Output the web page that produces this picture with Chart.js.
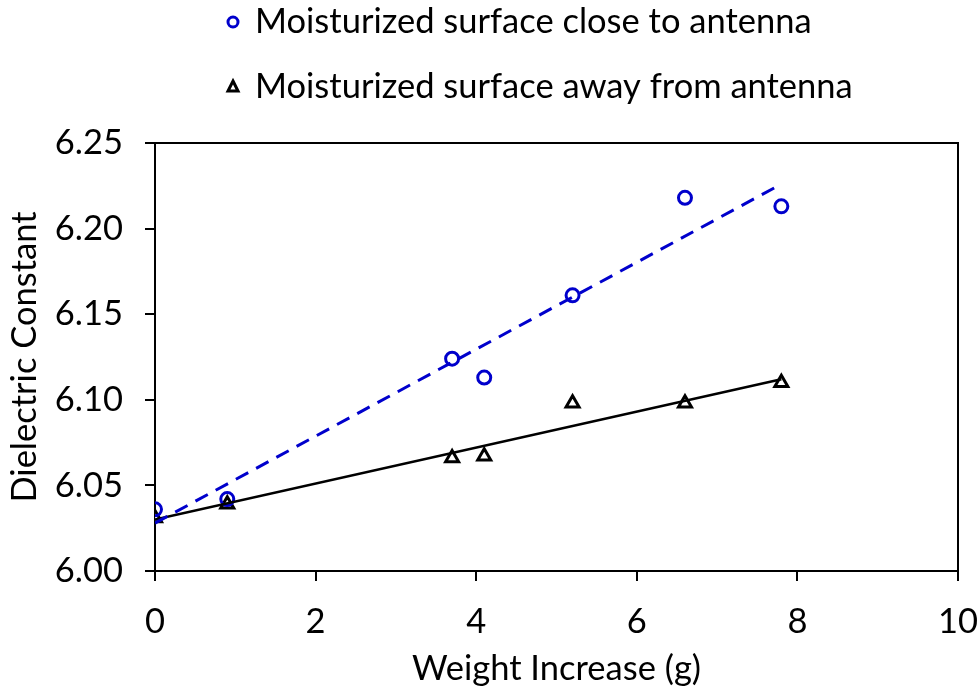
<!DOCTYPE html>
<html>
<head>
<meta charset="utf-8">
<script src="https://cdn.jsdelivr.net/npm/chart.js@4.4.0/dist/chart.umd.min.js"></script>
<style>
  html, body { margin: 0; padding: 0; background: #fff; }
  #wrap { width: 977px; height: 690px; }
</style>
</head>
<body>
<div id="wrap"><canvas id="myChart" width="977" height="690"></canvas></div>
<script>
// data
var weightX = [0, 0.9, 3.7, 4.1, 5.2, 6.6, 7.8];
var closeY = [6.036, 6.042, 6.124, 6.113, 6.161, 6.218, 6.213];
var awayY = [6.031, 6.039, 6.066, 6.067, 6.098, 6.098, 6.110];
var trendX = [0, 7.8];
var closeTrendY = [6.028, 6.226];
var awayTrendY = [6.030, 6.112];
var xTicks = [0, 2, 4, 6, 8, 10];
var yTicks = [6.00, 6.05, 6.10, 6.15, 6.20, 6.25];
var legendLabels = ["Moisturized surface close to antenna", "Moisturized surface away from antenna"];

var BLUE = "#0000CC";
var FONT = "Lato";
var FSIZE = 34.5;

function toPoints(xs, ys) {
    return xs.map((x, i) => ({ x: x, y: ys[i] }));
}

// frame round the plot area + the legend at the top
const framePlugin = {
    id: "frame",
    afterDraw(chart) {
        const c = chart.ctx;
        const a = chart.chartArea;
        c.save();
        c.strokeStyle = "#000";
        c.lineWidth = 2;
        c.beginPath();
        c.moveTo(a.left, a.top);
        c.lineTo(a.right, a.top);
        c.lineTo(a.right, a.bottom);
        c.stroke();

        // legend
        c.font = FSIZE + "px " + FONT;
        c.fillStyle = "#000";
        c.textBaseline = "middle";
        c.textAlign = "left";
        var rows = [22, 87];
        // circle
        c.lineWidth = 3;
        c.strokeStyle = BLUE;
        c.beginPath();
        c.arc(233, rows[0], 5, 0, Math.PI * 2);
        c.stroke();
        c.fillText(legendLabels[0], 255, rows[0]);
        // triangle
        c.strokeStyle = "#000";
        c.beginPath();
        c.moveTo(233, rows[1] - 6);
        c.lineTo(238, rows[1] + 4);
        c.lineTo(228, rows[1] + 4);
        c.closePath();
        c.stroke();
        c.fillText(legendLabels[1], 255, rows[1]);
        c.restore();
    }
};

var ctx = document.getElementById("myChart");

var chart = new Chart(ctx, {
    type: "scatter",
    data: {
        datasets: [
            {
                label: "close trend",
                type: "line",
                data: toPoints(trendX, closeTrendY),
                borderColor: BLUE,
                borderWidth: 3,
                borderDash: [14, 9],
                pointRadius: 0,
                fill: false
            },
            {
                label: "away trend",
                type: "line",
                data: toPoints(trendX, awayTrendY),
                borderColor: "#000",
                borderWidth: 2.5,
                pointRadius: 0,
                fill: false
            },
            {
                label: legendLabels[0],
                data: toPoints(weightX, closeY),
                pointStyle: "circle",
                pointRadius: 6.5,
                pointBorderWidth: 3,
                borderColor: BLUE,
                backgroundColor: "rgba(255,255,255,0)"
            },
            {
                label: legendLabels[1],
                data: toPoints(weightX, awayY),
                pointStyle: "triangle",
                pointRadius: 7.5,
                pointBorderWidth: 3,
                borderColor: "#000",
                backgroundColor: "#fff"
            }
        ]
    },
    options: {
        responsive: false,
        animation: false,
        layout: {
            padding: { top: 143, right: 19, left: 0, bottom: 0 }
        },
        plugins: {
            legend: { display: false },
            tooltip: { enabled: false }
        },
        scales: {
            x: {
                type: "linear",
                min: 0,
                max: 10,
                afterBuildTicks: (s) => { s.ticks = xTicks.map(v => ({ value: v })); },
                afterFit: (s) => {
                    s.height = 119;
                    s.paddingLeft = 0;
                    s.paddingRight = 0;
                },
                grid: {
                    drawOnChartArea: false,
                    drawTicks: true,
                    tickLength: 10,
                    color: "#000",
                    lineWidth: 2
                },
                border: { display: true, color: "#000", width: 2 },
                ticks: {
                    color: "#000",
                    font: { family: FONT, size: FSIZE },
                    padding: 20,
                    maxRotation: 0,
                    callback: (v) => v
                },
                title: {
                    display: true,
                    text: "Weight Increase (g)",
                    color: "#000",
                    font: { family: FONT, size: FSIZE },
                    padding: { top: 0, bottom: 0 }
                }
            },
            y: {
                type: "linear",
                min: 6.00,
                max: 6.25,
                afterBuildTicks: (s) => { s.ticks = yTicks.map(v => ({ value: v })); },
                afterFit: (s) => {
                    s.width = 155;
                    s.paddingTop = 0;
                    s.paddingBottom = 0;
                },
                grid: {
                    drawOnChartArea: false,
                    drawTicks: true,
                    tickLength: 10,
                    color: "#000",
                    lineWidth: 2
                },
                border: { display: true, color: "#000", width: 2 },
                ticks: {
                    color: "#000",
                    font: { family: FONT, size: FSIZE },
                    padding: 22,
                    callback: (v) => v.toFixed(2)
                },
                title: {
                    display: true,
                    text: "Dielectric Constant",
                    color: "#000",
                    font: { family: FONT, size: FSIZE },
                    padding: { top: 4, bottom: 6 }
                }
            }
        }
    },
    plugins: [framePlugin]
});
</script>
</body>
</html>
